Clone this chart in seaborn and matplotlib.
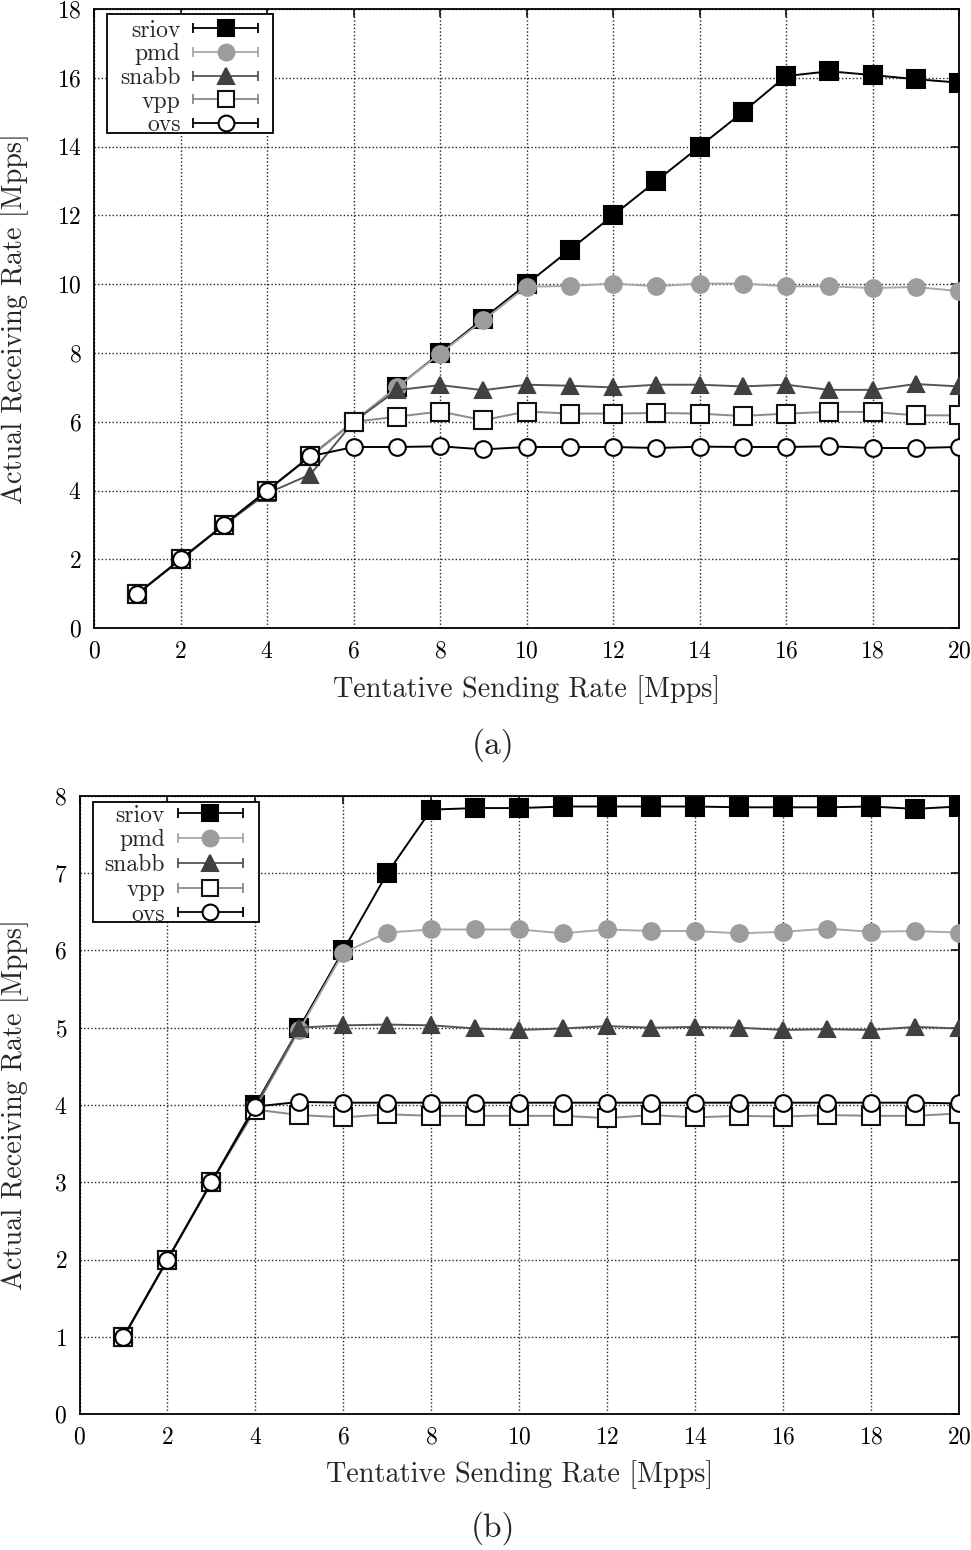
import numpy as np
import pandas as pd
import seaborn as sns
import matplotlib
matplotlib.use("Agg")
import matplotlib.pyplot as plt
from matplotlib.lines import Line2D
from matplotlib.patches import Rectangle
from matplotlib.legend_handler import HandlerBase

# ---------------- data ----------------
rate = list(range(1, 21))
series_names = ["sriov", "pmd", "snabb", "vpp", "ovs"]

a_sriov = [1, 2, 3, 4, 5, 6, 7, 8, 9, 10, 11, 12, 13, 14, 15, 16.05, 16.19, 16.08, 15.96, 15.86]
a_pmd = [1, 2, 3, 4, 5, 6, 7, 7.98, 8.95, 9.93, 9.95, 10.02, 9.94, 10.02, 10.02, 9.94, 9.94, 9.89, 9.92, 9.8]
a_snabb = [1, 2, 3, 3.92, 4.47, 6.0, 6.92, 7.07, 6.92, 7.08, 7.05, 7.0, 7.08, 7.08, 7.03, 7.08, 6.93, 6.93, 7.1, 7.03]
a_vpp = [1, 2, 3, 4, 5, 6.0, 6.15, 6.3, 6.05, 6.3, 6.24, 6.24, 6.26, 6.24, 6.17, 6.24, 6.29, 6.29, 6.19, 6.19]
a_ovs = [1, 2, 3, 4, 5, 5.27, 5.27, 5.29, 5.2, 5.27, 5.27, 5.27, 5.24, 5.28, 5.27, 5.27, 5.29, 5.24, 5.24, 5.27]

b_sriov = [1, 2, 3, 4, 5, 6, 7, 7.82, 7.84, 7.84, 7.86, 7.86, 7.86, 7.86, 7.85, 7.85, 7.85, 7.86, 7.83, 7.86]
b_pmd = [1, 2, 3, 3.96, 4.97, 5.97, 6.23, 6.27, 6.27, 6.27, 6.22, 6.27, 6.25, 6.25, 6.22, 6.24, 6.28, 6.24, 6.25, 6.23]
b_snabb = [1, 2, 3, 3.98, 5.0, 5.03, 5.04, 5.03, 4.99, 4.97, 4.99, 5.02, 5.0, 5.01, 5.0, 4.97, 4.98, 4.97, 5.01, 4.99]
b_vpp = [1, 2, 3, 3.94, 3.87, 3.84, 3.88, 3.86, 3.86, 3.86, 3.86, 3.83, 3.87, 3.84, 3.86, 3.85, 3.87, 3.86, 3.86, 3.89]
b_ovs = [1, 2, 3, 3.98, 4.04, 4.03, 4.03, 4.03, 4.03, 4.03, 4.03, 4.03, 4.03, 4.03, 4.03, 4.03, 4.03, 4.03, 4.03, 4.02]

x_label = "Tentative Sending Rate [Mpps]"
y_label = "Actual Receiving Rate [Mpps]"
panel_labels = ["(a)", "(b)"]

# ---------------- styles ----------------
styles = {
    "sriov": dict(line="#000000", marker="s", mfc="#000000", mec="#000000", ms=12.5),
    "pmd":   dict(line="#a8a8a8", marker="o", mfc="#9c9c9c", mec="#9c9c9c", ms=12.0),
    "snabb": dict(line="#555555", marker="^", mfc="#404040", mec="#404040", ms=12.0),
    "vpp":   dict(line="#8a8a8a", marker="s", mfc="#ffffff", mec="#111111", ms=12.5),
    "ovs":   dict(line="#000000", marker="o", mfc="#ffffff", mec="#000000", ms=12.0),
}

sns.set_style("white")
plt.rcParams["font.family"] = ["cmr10", "DejaVu Serif"]
plt.rcParams["axes.formatter.use_mathtext"] = True
plt.rcParams["mathtext.fontset"] = "cm"


class CapLineHandler(HandlerBase):
    def create_artists(self, legend, orig_handle, xdescent, ydescent,
                       width, height, fontsize, trans):
        y = (height - ydescent) / 2.0
        x0, x1 = -xdescent, -xdescent + width
        lc = orig_handle.get_color()
        line = Line2D([x0, x1], [y, y], color=lc, lw=1.3)
        caps = Line2D([x0, x1], [y, y], color=lc, lw=0, marker="|",
                      markersize=7, markeredgewidth=1.3)
        mk = Line2D([(x0 + x1) / 2], [y], lw=0,
                    marker=orig_handle.get_marker(),
                    markersize=orig_handle.get_markersize(),
                    markerfacecolor=orig_handle.get_markerfacecolor(),
                    markeredgecolor=orig_handle.get_markeredgecolor(),
                    markeredgewidth=orig_handle.get_markeredgewidth())
        for art in (line, caps, mk):
            art.set_transform(trans)
        return [line, caps, mk]


fig = plt.figure(figsize=(9.71, 15.5), dpi=100)
ax_a = fig.add_axes([94 / 971, 1 - 628.3 / 1550, (959 - 94) / 971, (628.3 - 9) / 1550])
ax_b = fig.add_axes([79.5 / 971, 1 - 1414.3 / 1550, (959 - 79.5) / 971, (1414.3 - 795.7) / 1550])

# (axes, data, ymax, ystep, legend text-left/top px, legend frame px, row spacing, xlabel y px, panel label y px)
panels = [
    (ax_a, [a_sriov, a_pmd, a_snabb, a_vpp, a_ovs], 18, 2, (120, 19.5), (107, 14, 273, 133), 0.065, 690, 745),
    (ax_b, [b_sriov, b_pmd, b_snabb, b_vpp, b_ovs], 8, 1, (104.5, 804.5), (93, 801.7, 259, 921.7), 0.11, 1475, 1528),
]

for idx, (ax, data, ymax, ystep, leg_xy, frame, lspace, xlab_y, panel_y) in enumerate(panels):
    handles = []
    for name, vals in zip(series_names, data):
        st = styles[name]
        df = pd.DataFrame({"x": rate, "y": vals})
        sns.lineplot(data=df, x="x", y="y", ax=ax, color=st["line"], lw=1.4,
                     marker=st["marker"], markersize=st["ms"],
                     markerfacecolor=st["mfc"], markeredgecolor=st["mec"],
                     markeredgewidth=1.5, legend=False, zorder=3)
        handles.append(Line2D([], [], color=st["line"], marker=st["marker"],
                              markersize=st["ms"] * 0.95, markerfacecolor=st["mfc"],
                              markeredgecolor=st["mec"], markeredgewidth=1.5))
    ax.set_xlim(0, 20)
    ax.set_ylim(0, ymax)
    ax.set_xticks(np.arange(0, 21, 2))
    ax.set_yticks(np.arange(0, ymax + 0.01, ystep))
    ax.grid(True, color="#222222", linestyle=(0, (1, 1.6)), linewidth=1.0)
    ax.set_axisbelow(True)
    for sp in ax.spines.values():
        sp.set_visible(True)
        sp.set_color("black")
        sp.set_linewidth(1.3)
    ax.tick_params(direction="in", top=True, right=True, length=6, width=1.1,
                   labelsize=17, pad=9, colors="black")
    ax.set_xlabel(x_label, fontsize=20.3)
    ax.set_ylabel(y_label, fontsize=20.3)
    ax.xaxis.label.set_va("center")
    ax.yaxis.label.set_va("center")
    bb = ax.get_position()
    ax_h_px = bb.height * 1550
    ax_w_px = bb.width * 971
    ax.xaxis.set_label_coords(0.5, -(xlab_y - (1 - bb.y0) * 1550) / ax_h_px)
    ax.yaxis.set_label_coords((15 - bb.x0 * 971) / ax_w_px, 0.5)

    # legend frame
    fx0, fy0, fx1, fy1 = frame
    rect = Rectangle((fx0 / 971, 1 - fy1 / 1550), (fx1 - fx0) / 971, (fy1 - fy0) / 1550,
                     transform=fig.transFigure, facecolor="white", edgecolor="black",
                     linewidth=1.3, zorder=9, clip_on=False)
    ax.add_patch(rect)

    leg = ax.legend(handles, series_names, loc="upper left",
                    bbox_to_anchor=(leg_xy[0] / 971, 1 - leg_xy[1] / 1550),
                    bbox_transform=fig.transFigure, borderaxespad=0,
                    markerfirst=False, fontsize=17, handlelength=2.75,
                    handletextpad=0.55, labelspacing=lspace, borderpad=0.0,
                    frameon=False,
                    handler_map={Line2D: CapLineHandler()})
    leg.set_zorder(10)

    fig.text(493 / 971, 1 - panel_y / 1550, panel_labels[idx], fontsize=24,
             ha="center", va="center")

fig.savefig("out.png", dpi=100)
